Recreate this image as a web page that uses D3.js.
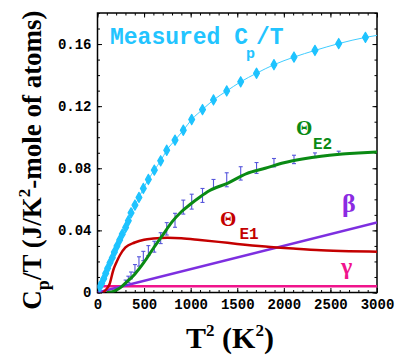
<!DOCTYPE html>
<html>
<head>
<meta charset="utf-8">
<script src="https://cdn.jsdelivr.net/npm/d3@7"></script>
<style>
  html, body { margin: 0; padding: 0; background: #fff; }
  svg { display: block; }
</style>
</head>
<body>
<svg id="chart" width="399" height="361"></svg>
<script>
// ---------- DATA ----------
const xTicks = [0, 500, 1000, 1500, 2000, 2500, 3000];
const yTicks = [0, 0.04, 0.08, 0.12, 0.16];

// measured Cp/T points
const measT2 = [24, 45, 67, 88, 109, 134, 159, 181, 209, 238, 266, 302, 331, 360, 402, 445, 492, 546, 610, 678, 743, 832, 921, 1011, 1127, 1245, 1387, 1537, 1707, 1894, 2109, 2334, 2589, 2876];
const measVal = [0.0037, 0.0059, 0.0089, 0.0123, 0.0156, 0.0192, 0.0224, 0.026, 0.0299, 0.0338, 0.0376, 0.0419, 0.0462, 0.0513, 0.0563, 0.0612, 0.067, 0.0728, 0.0788, 0.0848, 0.0916, 0.0981, 0.1045, 0.1114, 0.1178, 0.1240, 0.1298, 0.1357, 0.1412, 0.1467, 0.1516, 0.1559, 0.1603, 0.1643];
// total fit line end point
const totalEndT2 = [3000];
const totalEndVal = [0.1656];

// Einstein 2 fit
const e2T2 = [100, 150, 200, 250, 300, 400, 500, 600, 700, 800, 900, 1000, 1100, 1200, 1400, 1600, 1800, 2000, 2200, 2400, 2600, 2800, 3000];
const e2Val = [0, 0.0003, 0.0015, 0.0033, 0.006, 0.0118, 0.0195, 0.0285, 0.037, 0.0455, 0.052, 0.057, 0.0615, 0.0655, 0.0705, 0.0766, 0.080, 0.0836, 0.086, 0.0878, 0.089, 0.0898, 0.0905];

// E2 data with error bars
const ebT2 = [302, 331, 360, 402, 445, 492, 546, 610, 678, 743, 832, 921, 1011, 1127, 1245, 1387, 1537, 1707, 1894, 2109, 2334, 2589];
const ebVal = [0.0065, 0.0085, 0.011, 0.0155, 0.020, 0.0235, 0.027, 0.0295, 0.035, 0.041, 0.0465, 0.055, 0.0585, 0.0625, 0.0699, 0.0726, 0.0767, 0.0802, 0.0836, 0.0857, 0.0884, 0.0900];
const ebErr = [0.0015, 0.002, 0.0022, 0.0025, 0.003, 0.003, 0.0032, 0.0035, 0.0035, 0.004, 0.0045, 0.0045, 0.0048, 0.0045, 0.0029, 0.0045, 0.0043, 0.0035, 0.0027, 0.0027, 0.0015, 0.001];

// Einstein 1 fit
const e1T2 = [60, 100, 130, 170, 200, 240, 300, 400, 500, 600, 750, 900, 1100, 1300, 1500, 1800, 2100, 2400, 2700, 3000];
const e1Val = [0, 0.0025, 0.0055, 0.0145, 0.019, 0.024, 0.029, 0.0322, 0.034, 0.0347, 0.0352, 0.0349, 0.0338, 0.0326, 0.0313, 0.0296, 0.0283, 0.0272, 0.0266, 0.0263];

// beta T^2 term
const betaT2 = [0, 3000];
const betaVal = [0, 0.0451];

// gamma term
const gammaT2 = [0, 3000];
const gammaVal = [0.004, 0.004];

// ---------- CHART ----------
const svg = d3.select("#chart");
const L = 97.5, R = 377, T = 13, B = 292.5;
const x = d3.scaleLinear().domain([0, 3000]).range([L, R]);
const y = d3.scaleLinear().domain([0, 0.18]).range([B, T]);

const MONO = '"Liberation Mono"';
const SERIF = '"Liberation Serif"';

svg.append("defs").append("clipPath").attr("id", "clip")
  .append("rect").attr("x", L).attr("y", T).attr("width", R - L).attr("height", B - T);

const yMinor = d3.range(0, 0.1801, 0.01);
const xMinor = d3.range(0, 3001, 100);

function styleAxis(g) {
  g.attr("font-family", null).attr("font-size", null);
  g.select(".domain").remove();
  g.selectAll(".tick line").attr("stroke", "#000").attr("stroke-width", 1);
  g.selectAll(".tick text").style("font-family", MONO).style("font-weight", "bold")
    .style("font-size", "14px").attr("fill", "#000");
}

// minor ticks
svg.append("g").attr("transform", `translate(${L},0)`)
  .call(d3.axisLeft(y).tickValues(yMinor).tickSize(-2.5).tickFormat("")).call(styleAxis);
svg.append("g").attr("transform", `translate(${R},0)`)
  .call(d3.axisRight(y).tickValues(yMinor).tickSize(-2.5).tickFormat("")).call(styleAxis);
svg.append("g").attr("transform", `translate(0,${B})`)
  .call(d3.axisBottom(x).tickValues(xMinor).tickSize(-2.5).tickFormat("")).call(styleAxis);
svg.append("g").attr("transform", `translate(0,${T})`)
  .call(d3.axisTop(x).tickValues(xMinor).tickSize(-2.5).tickFormat("")).call(styleAxis);

// major ticks
const yFmt = d => d === 0 ? "0" : d3.format(".2f")(d);
svg.append("g").attr("transform", `translate(${L},0)`)
  .call(d3.axisLeft(y).tickValues(yTicks).tickSize(-4.5).tickPadding(6).tickFormat(yFmt)).call(styleAxis);
svg.append("g").attr("transform", `translate(${R},0)`)
  .call(d3.axisRight(y).tickValues(yTicks).tickSize(-4.5).tickFormat("")).call(styleAxis);
svg.append("g").attr("transform", `translate(0,${B})`)
  .call(d3.axisBottom(x).tickValues(xTicks).tickSize(-4.5).tickPadding(7).tickFormat(d3.format("d"))).call(styleAxis);
svg.append("g").attr("transform", `translate(0,${T})`)
  .call(d3.axisTop(x).tickValues(xTicks).tickSize(-4.5).tickFormat("")).call(styleAxis);

// frame
svg.append("rect").attr("x", L).attr("y", T).attr("width", R - L).attr("height", B - T)
  .attr("fill", "none").attr("stroke", "#000").attr("stroke-width", 1.5);

const plot = svg.append("g").attr("clip-path", "url(#clip)");
const line = d3.line().x(d => x(d[0])).y(d => y(d[1])).curve(d3.curveMonotoneX);
const zip = (a, b) => a.map((v, i) => [v, b[i]]);

// gamma
plot.append("path").datum(zip(gammaT2, gammaVal)).attr("d", line)
  .attr("fill", "none").attr("stroke", "#f0148c").attr("stroke-width", 2.5);
// beta
plot.append("path").datum(zip(betaT2, betaVal)).attr("d", line)
  .attr("fill", "none").attr("stroke", "#7d2fe0").attr("stroke-width", 2.5);
// E1
plot.append("path").datum(zip(e1T2, e1Val)).attr("d", line)
  .attr("fill", "none").attr("stroke", "#c40000").attr("stroke-width", 2.5);

// error bars
const eb = plot.append("g").attr("stroke", "#3a3ad6").attr("stroke-width", 1.1).attr("opacity", 0.85);
ebT2.forEach((t, i) => {
  const cx = x(t), y1 = y(ebVal[i] - ebErr[i]), y2 = y(ebVal[i] + ebErr[i]);
  eb.append("line").attr("x1", cx).attr("x2", cx).attr("y1", y1).attr("y2", y2);
  eb.append("line").attr("x1", cx - 2).attr("x2", cx + 2).attr("y1", y1).attr("y2", y1);
  eb.append("line").attr("x1", cx - 2).attr("x2", cx + 2).attr("y1", y2).attr("y2", y2);
});

// E2
plot.append("path").datum(zip(e2T2, e2Val)).attr("d", line)
  .attr("fill", "none").attr("stroke", "#0a8a14").attr("stroke-width", 3);

// measured
const meas = zip(measT2, measVal);
plot.append("path").datum(meas.concat(zip(totalEndT2, totalEndVal))).attr("d", line)
  .attr("fill", "none").attr("stroke", "#40ccff").attr("stroke-width", 1);
plot.selectAll(".pt").data(meas).join("path").attr("class", "pt")
  .attr("transform", d => `translate(${x(d[0])},${y(d[1])})`)
  .attr("d", d3.symbol(d3.symbolDiamond, 30))
  .attr("fill", "#1ec3ff").attr("stroke", "#1ec3ff").attr("stroke-width", 1.2).attr("stroke-linejoin", "round");

// ---------- LABELS ----------
function txt(xp, yp, fam, size, color, s) {
  return svg.append("text").attr("x", xp).attr("y", yp)
    .style("font-family", fam).style("font-weight", "bold").style("font-size", size + "px")
    .attr("fill", color).text(s);
}
const cyan = "#22c4ff";
const t1 = svg.append("text").attr("x", 110).attr("y", 43.5)
  .style("font-family", MONO).style("font-weight", "bold").style("font-size", "23px").attr("fill", cyan);
t1.append("tspan").text("Measured C");
t1.append("tspan").style("font-size", "15px").attr("dy", 14).attr("dx", -2).text("p");
t1.append("tspan").attr("dy", -14).attr("dx", 1).text("/T");

// Theta E2
txt(296, 135, SERIF, 21, "#0a8a14", "Θ");
txt(313, 148.5, MONO, 16, "#0a8a14", "E2");
// Theta E1
txt(220, 226, SERIF, 21, "#c40000", "Θ");
txt(239.5, 238.5, MONO, 16, "#c40000", "E1");
// beta
txt(342, 212, SERIF, 26, "#8b2be2", "β");
// gamma
txt(341, 274, SERIF, 24, "#f0148c", "γ");

// x axis title
const xt = svg.append("text").attr("x", 230).attr("y", 348).attr("text-anchor", "middle")
  .style("font-family", SERIF).style("font-weight", "bold").style("font-size", "30px").attr("fill", "#000");
xt.append("tspan").text("T");
xt.append("tspan").style("font-size", "17px").attr("dy", -12).text("2");
xt.append("tspan").attr("dy", 12).text(" (K");
xt.append("tspan").style("font-size", "17px").attr("dy", -12).text("2");
xt.append("tspan").attr("dy", 12).text(")");

// y axis title
const yt = svg.append("text").attr("transform", "translate(41,160) rotate(-90)").attr("text-anchor", "middle")
  .style("font-family", SERIF).style("font-weight", "bold").style("font-size", "27px").attr("fill", "#000");
yt.append("tspan").text("C");
yt.append("tspan").style("font-size", "18px").attr("dy", 8).text("p");
yt.append("tspan").attr("dy", -8).text("/T (J/K");
yt.append("tspan").style("font-size", "17px").attr("dy", -11).text("2");
yt.append("tspan").attr("dy", 11).text("-mole of atoms)");
</script>
</body>
</html>
